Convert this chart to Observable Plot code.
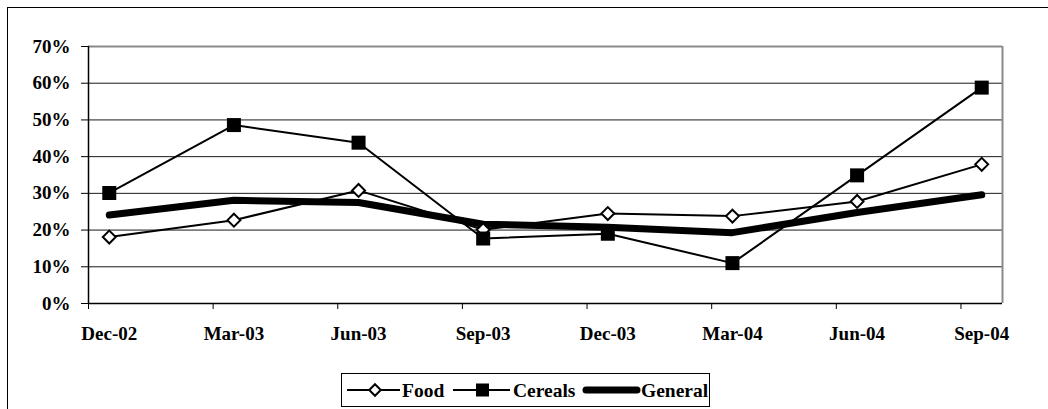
<!DOCTYPE html>
<html>
<head>
<meta charset="utf-8">
<script src="https://cdn.jsdelivr.net/npm/d3@7"></script>
<script src="https://cdn.jsdelivr.net/npm/@observablehq/plot@0.6"></script>
<style>
  html, body { margin: 0; padding: 0; background: #fff; overflow: hidden; }
  #wrap { position: relative; width: 1048px; height: 409px; overflow: hidden; }
  #frame { position: absolute; left: 7px; top: 7px; width: 1200px; height: 600px; border-left: 1px solid #000; border-top: 1px solid #000; }
  #chart { position: absolute; left: 0; top: 0; }
  #legend { position: absolute; left: 341px; top: 373px; }
  .serif, .serif text { font-family: "Liberation Serif", Tinos, "Times New Roman", Times, "DejaVu Serif", serif !important; font-weight: bold; }
</style>
</head>
<body>
<div id="wrap">
  <div id="frame"></div>
  <div id="chart"></div>
  <svg id="legend" class="serif" width="370" height="35"></svg>
</div>
<script>
// Quarterly readings, Dec-02 to Sep-04
const categories = ["Dec-02", "Mar-03", "Jun-03", "Sep-03", "Dec-03", "Mar-04", "Jun-04", "Sep-04"];
const food    = [0.181, 0.227, 0.308, 0.201, 0.245, 0.238, 0.278, 0.379];
const cereals = [0.301, 0.486, 0.438, 0.177, 0.190, 0.110, 0.349, 0.588];
const general = [0.241, 0.281, 0.275, 0.216, 0.208, 0.193, 0.248, 0.296];
const yTicks  = [0, 0.1, 0.2, 0.3, 0.4, 0.5, 0.6, 0.7];
const seriesNames = ["Food", "Cereals", "General"];

// Monthly date axis: each quarter label sits in the middle of its month slot
const monthSpan = 22;
const tickMonths = categories.map((_, i) => i * 3);
const pointMonths = categories.map((_, i) => i * 3 + 0.5);
const labelAt = new Map(categories.map((c, i) => [pointMonths[i], c]));

const rows = categories.map((c, i) => ({
  month: pointMonths[i], food: food[i], cereals: cereals[i], general: general[i]
}));

const chart = Plot.plot({
  className: "serif",
  width: 1048,
  height: 365,
  marginLeft: 88,
  marginRight: 46,
  marginTop: 46,
  marginBottom: 62,
  style: {
    fontSize: "19px",
    fontWeight: "bold",
    color: "#000",
    background: "transparent"
  },
  x: { domain: [0, monthSpan] },
  y: { domain: [0, 0.7] },
  marks: [
    Plot.gridY(yTicks.slice(0, -1), { stroke: "#1a1a1a", strokeOpacity: 1, strokeWidth: 1 }),
    Plot.ruleY([0.7], { stroke: "#8a8a8a", strokeWidth: 2 }),
    Plot.ruleX([monthSpan], { stroke: "#8a8a8a", strokeWidth: 2 }),
    Plot.axisY({ ticks: yTicks, tickFormat: d3.format(".0%"), tickSize: 7, tickPadding: 11, label: null }),
    Plot.ruleX([0], { stroke: "#000", strokeWidth: 1.5 }),
    Plot.ruleY([0], { stroke: "#000", strokeWidth: 1.5 }),
    Plot.axisX({ ticks: tickMonths, tickSize: 6, tickFormat: () => "", label: null }),
    Plot.axisX({ ticks: pointMonths, tickSize: 0, tickPadding: 23, tickFormat: d => labelAt.get(d), label: null }),
    // General: heavy line
    Plot.line(rows, { x: "month", y: "general", stroke: "#000", strokeWidth: 7, strokeLinecap: "round", strokeLinejoin: "round" }),
    // Food: thin line with open diamonds
    Plot.line(rows, { x: "month", y: "food", stroke: "#000", strokeWidth: 2 }),
    Plot.dot(rows, { x: "month", y: "food", symbol: "diamond2", r: 5.8, fill: "#fff", stroke: "#000", strokeWidth: 2 }),
    // Cereals: thin line with filled squares
    Plot.line(rows, { x: "month", y: "cereals", stroke: "#000", strokeWidth: 2 }),
    Plot.dot(rows, { x: "month", y: "cereals", symbol: "square", r: 7.9, fill: "#000", stroke: "none" })
  ]
});
document.getElementById("chart").appendChild(chart);

// Legend
const lg = d3.select("#legend");
lg.append("rect").attr("x", 0.5).attr("y", 0.5).attr("width", 368).attr("height", 33)
  .attr("fill", "#fff").attr("stroke", "#000").attr("stroke-width", 1);
const ly = 17;
const textStyle = t => t.attr("font-size", 19.5).attr("fill", "#000");
// Food
lg.append("line").attr("x1", 6).attr("x2", 59).attr("y1", ly).attr("y2", ly).attr("stroke", "#000").attr("stroke-width", 2);
lg.append("path").attr("d", d3.symbol(d3.symbolDiamond2, Math.PI * 5.2 * 5.2)()).attr("transform", `translate(34,${ly})`)
  .attr("fill", "#fff").attr("stroke", "#000").attr("stroke-width", 2);
textStyle(lg.append("text").attr("x", 61).attr("y", ly + 6.5).text(seriesNames[0]));
// Cereals
lg.append("line").attr("x1", 112).attr("x2", 169).attr("y1", ly).attr("y2", ly).attr("stroke", "#000").attr("stroke-width", 2);
lg.append("rect").attr("x", 135).attr("y", ly - 6.5).attr("width", 13).attr("height", 13).attr("fill", "#000");
textStyle(lg.append("text").attr("x", 172).attr("y", ly + 6.5).text(seriesNames[1]));
// General
lg.append("line").attr("x1", 245).attr("x2", 296).attr("y1", ly).attr("y2", ly).attr("stroke", "#000")
  .attr("stroke-width", 7).attr("stroke-linecap", "round");
textStyle(lg.append("text").attr("x", 300).attr("y", ly + 6.5).text(seriesNames[2]));
</script>
</body>
</html>
